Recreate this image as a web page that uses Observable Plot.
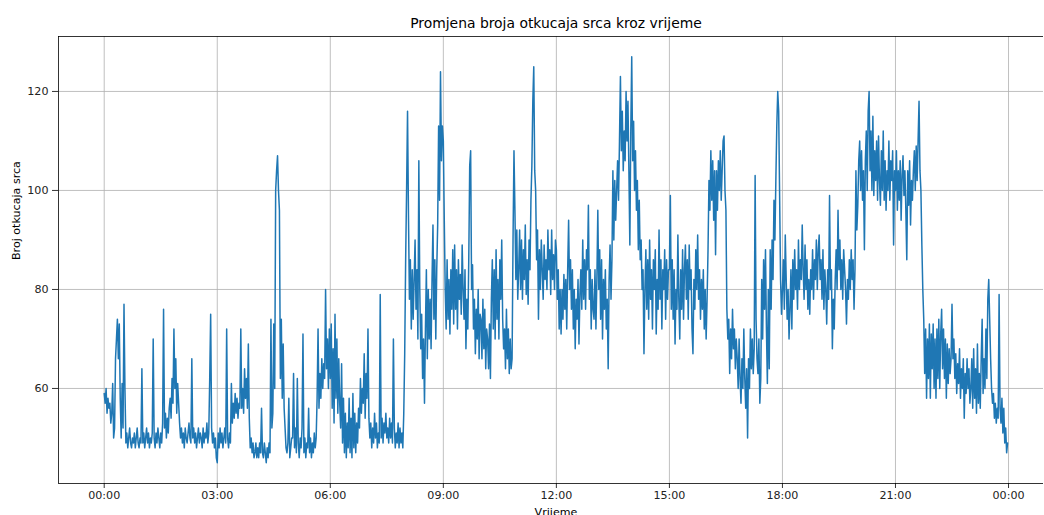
<!DOCTYPE html>
<html>
<head>
<meta charset="utf-8">
<script src="https://cdn.jsdelivr.net/npm/d3@7"></script>
<script src="https://cdn.jsdelivr.net/npm/@observablehq/plot@0.6"></script>
<style>
  html, body { margin: 0; padding: 0; background: #fff; }
  #chart { width: 1044px; height: 515px; overflow: hidden; }
</style>
</head>
<body>
<div id="chart"></div>
<script>
// Heart rate samples (bpm), grouped by hour of day;
// each hour's samples are spread evenly across that hour.
const hr00 = [59,57,60,55,58,56,57,53,55,61,50,52,66,70,74,66,73,58,50,61,52,77,60,49,51,48,50,52,49,48,50,49,51,48,50,52,49,48,50,49];
const hr01 = [64,49,51,48,50,52,49,51,48,50,49,51,70,50,48,51,49,52,50,48,51,49,53,76,52,55,50,54,51,56,58,54,62,57,72,60,66,55,61,57];
const hr02 = [53,50,52,49,51,48,52,50,49,51,53,50,49,66,50,52,49,51,48,50,52,49,51,50,48,52,49,51,50,53,49,51,62,75,52,49,51,48,50,46];
const hr03 = [45,51,48,52,49,51,48,50,52,49,72,50,48,51,49,61,53,57,54,59,55,58,54,57,56,72,56,60,55,64,58,62,56,69,54,48,50,47,49,46];
const hr04 = [47,49,46,48,46,49,47,56,47,46,49,47,45,48,46,49,47,74,52,55,73,60,100,104,107,100,96,62,74,58,69,56,52,48,47,49,58,46,48,50];
const hr05 = [50,63,48,52,47,62,49,46,50,48,52,71,47,50,46,49,48,56,47,50,46,49,47,51,48,50,58,72,56,63,58,66,60,65,62,80,64,70,60,72];
const hr06 = [62,73,56,68,53,75,58,70,55,66,57,52,65,49,58,47,55,46,53,48,58,47,54,46,59,48,55,47,53,49,56,52,62,55,60,57,67,54,63,58];
const hr07 = [72,54,50,53,48,52,49,55,50,53,48,51,49,79,50,54,49,53,51,55,50,52,49,54,50,53,49,70,52,48,51,49,53,48,52,49,51,48,55,67];
const hr08 = [86,100,116,95,78,86,72,84,74,82,90,76,84,70,106,80,68,75,62,70,57,72,84,66,80,70,78,68,82,93,74,86,70,84,93,113,98,124,106,113];
const hr09 = [110,94,80,72,86,74,82,71,84,76,88,73,89,76,84,72,86,78,83,75,89,80,74,84,68,78,72,86,105,108,80,85,72,78,67,76,70,80,66,75];
const hr10 = [74,66,78,68,76,64,72,70,64,73,62,78,86,72,84,70,88,74,82,70,86,78,90,74,68,72,64,76,66,72,63,70,64,66,90,108,96,82,92,78];
const hr11 = [84,92,80,90,78,88,82,93,79,86,77,90,84,98,105,118,125,104,100,86,92,74,88,80,90,84,78,89,82,86,80,92,84,88,79,92,82,87,80,90];
const hr12 = [88,78,84,72,80,71,80,74,83,76,82,72,84,94,80,86,76,84,72,80,68,78,74,82,69,79,84,76,90,78,86,76,88,84,97,78,84,72,82,76];
const hr13 = [74,84,72,82,96,80,88,74,86,70,82,76,84,72,78,64,82,89,78,86,104,90,102,94,100,106,98,110,123,108,116,104,112,106,120,110,118,104,89,112];
const hr14 = [127,106,114,100,108,96,102,88,98,86,90,80,84,67,80,88,76,86,74,90,78,84,72,86,80,88,71,82,76,92,78,86,72,84,80,88,74,86,78,84];
const hr15 = [84,99,76,86,74,84,69,80,76,91,78,70,84,76,88,74,84,89,78,86,74,89,80,84,72,67,82,76,88,80,91,78,84,74,82,76,84,72,80,70];
const hr16 = [78,88,102,96,108,98,106,94,104,87,104,96,106,100,108,98,104,110,111,100,96,76,70,74,63,72,66,76,68,72,64,70,66,60,70,62,57,66,60,72];
const hr17 = [62,56,64,50,66,60,72,64,70,63,68,103,74,66,63,70,57,62,82,70,86,76,88,72,61,80,64,88,76,90,82,98,90,102,113,120,116,99,82,75];
const hr18 = [80,86,76,91,82,74,80,70,76,84,72,86,78,88,80,84,76,90,80,86,82,93,84,78,89,80,86,76,82,75,84,80,88,78,86,82,90,80,88,91];
const hr19 = [82,86,78,88,76,84,80,73,84,78,99,80,84,68,78,72,82,88,80,96,84,90,80,86,78,88,84,80,73,82,78,86,80,88,82,86,76,84,104,92];
const hr20 = [97,106,110,100,108,98,104,88,106,112,100,116,120,104,112,100,115,99,108,102,110,98,111,102,97,108,100,112,98,106,96,104,100,110,98,106,102,108,89,104];
const hr21 = [100,108,96,104,98,106,94,103,107,99,104,96,86,104,97,106,93,102,98,104,108,100,109,102,110,118,104,100,89,80,74,63,72,58,70,62,73,58,71,64];
const hr22 = [73,60,70,58,72,62,74,60,71,76,64,72,62,70,58,69,61,68,63,66,77,66,70,62,67,59,65,61,68,58,64,60,66,54,63,59,66,60,64,57];
const hr23 = [60,66,56,68,58,64,55,69,57,63,56,66,74,59,66,60,72,62,78,82,74,66,60,57,59,54,57,53,56,54,79,56,53,58,51,56,49,52,47,49];

const xTickMinutes = [0, 180, 360, 540, 720, 900, 1080, 1260, 1440];
const xTickLabels = ["00:00","03:00","06:00","09:00","12:00","15:00","18:00","21:00","00:00"];
const yTicks = [60, 80, 100, 120];

const titleText = "Promjena broja otkucaja srca kroz vrijeme";
const xLabel = "Vrijeme";
const yLabel = "Broj otkucaja srca";

const hourly = [hr00,hr01,hr02,hr03,hr04,hr05,hr06,hr07,hr08,hr09,hr10,hr11,
                hr12,hr13,hr14,hr15,hr16,hr17,hr18,hr19,hr20,hr21,hr22,hr23];
const data = [];
hourly.forEach((arr, h) => arr.forEach((v, i) => data.push({t: h * 60 + i * 60 / arr.length, v})));

const font = "'DejaVu Sans', sans-serif";
const xDomain = [-72.8, 1495.7];
const yDomain = [40.8, 131.1];

const chart = Plot.plot({
  width: 1044,
  height: 515,
  marginTop: 36,
  marginBottom: 32,
  marginLeft: 58,
  marginRight: 1,
  style: {fontFamily: font, fontSize: "11.1px", color: "#000", background: "#fff"},
  x: {domain: xDomain},
  y: {domain: yDomain},
  marks: [
    Plot.gridX(xTickMinutes, {stroke: "#b0b0b0", strokeOpacity: 1, strokeWidth: 0.8}),
    Plot.gridY(yTicks, {stroke: "#b0b0b0", strokeOpacity: 1, strokeWidth: 0.8}),
    Plot.line(data, {x: "t", y: "v", stroke: "#1f77b4", strokeWidth: 1.5, strokeLinejoin: "round"}),
    Plot.ruleX([xDomain[0]], {stroke: "#000", strokeWidth: 0.8}),
    Plot.ruleY([yDomain[0], yDomain[1]], {stroke: "#000", strokeWidth: 0.8}),
    Plot.axisX(xTickMinutes, {
      tickSize: 5, tickPadding: 3, label: null,
      tickFormat: (d) => xTickLabels[xTickMinutes.indexOf(d)],
      stroke: "#000", strokeWidth: 0.8, fill: "#222", fontSize: 11.1
    }),
    Plot.axisY(yTicks, {
      tickSize: 6, tickPadding: 4, label: null,
      stroke: "#000", strokeWidth: 0.8, fill: "#222", fontSize: 11.1
    }),
    Plot.text([titleText], {frameAnchor: "top", dx: 5, dy: -13, fontSize: 13.9, fill: "#000", lineAnchor: "middle"}),
    Plot.text([xLabel], {frameAnchor: "bottom", dx: 5, dy: 29, fontSize: 11.1, fill: "#000", lineAnchor: "middle"}),
    Plot.text([yLabel], {frameAnchor: "left", dx: -42, rotate: -90, fontSize: 11.1, fill: "#000", lineAnchor: "middle"})
  ]
});
document.getElementById("chart").appendChild(chart);
</script>
</body>
</html>
